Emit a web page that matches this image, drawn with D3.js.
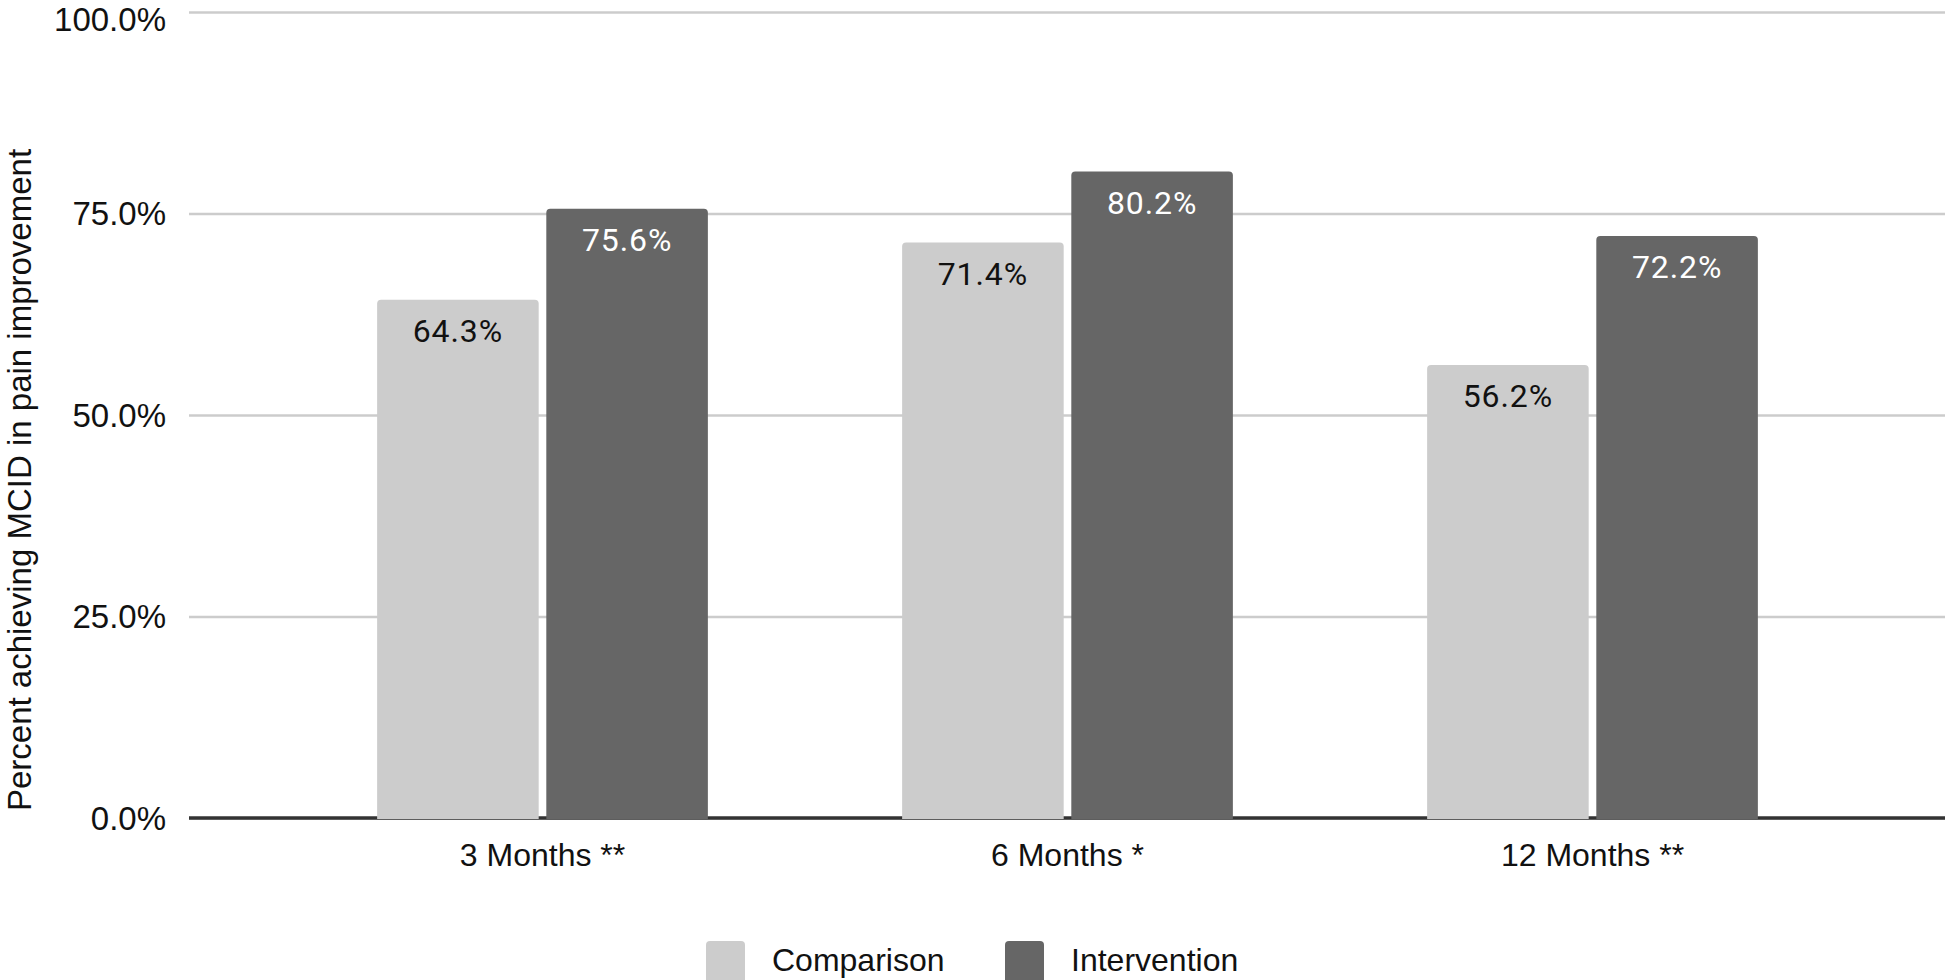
<!DOCTYPE html>
<html>
<head>
<meta charset="utf-8">
<script src="https://cdn.jsdelivr.net/npm/d3@7"></script>
<style>
  body { margin: 0; background: #fff; }
  svg { display: block; }
</style>
</head>
<body>
<script>
//=== Data ===
const periods = ["3 Months **", "6 Months *", "12 Months **"]
const seriesNames = ["Comparison", "Intervention"]
const comparison = [0.643, 0.714, 0.562]
const intervention = [0.756, 0.802, 0.722]
const yTicks = [0, 0.25, 0.5, 0.75, 1]

const colors = { Comparison: "#cccccc", Intervention: "#666666" }
const labelColors = { Comparison: "#111111", Intervention: "#ffffff" }

const W = 1952, H = 980
const plotLeft = 189, plotRight = 1945

const data = periods.map((p, i) => ({
    period: p,
    values: [
        { key: "Comparison", value: comparison[i] },
        { key: "Intervention", value: intervention[i] }
    ]
}))

const svg = d3.select("body").append("svg")
    .attr("width", W)
    .attr("height", H)

const y = d3.scaleLinear()
    .domain([0, 1])
    .range([818, 12])

const x = d3.scaleBand()
    .domain(periods)
    .range([280, 1855])
    .paddingInner(0.37)
    .paddingOuter(0.185)

const xSub = d3.scaleBand()
    .domain(seriesNames)
    .range([0, x.bandwidth()])
    .paddingInner(0.045)

// gridlines + y labels
const yAxis = svg.append("g")
    .attr("transform", "translate(" + plotLeft + ",0)")
    .call(d3.axisLeft(y)
        .tickValues(yTicks)
        .tickFormat(d3.format(".1%"))
        .tickSize(-(plotRight - plotLeft))
        .tickPadding(23))
yAxis.select(".domain").remove()
yAxis.selectAll(".tick line")
    .attr("stroke", "#cccccc")
    .attr("stroke-width", 2.5)
yAxis.selectAll(".tick text")
    .attr("font-family", "Liberation Sans, Arial, sans-serif")
    .attr("font-size", 33)
    .attr("fill", "#111")
    // top label pushed down a bit so it stays inside the page
    .attr("dy", d => d === 1 ? "0.55em" : "0.34em")

// baseline
svg.append("line")
    .attr("x1", plotLeft)
    .attr("x2", plotRight)
    .attr("y1", y(0))
    .attr("y2", y(0))
    .attr("stroke", "#333333")
    .attr("stroke-width", 3.5)

// x axis labels
const xAxis = svg.append("g")
    .attr("transform", "translate(0," + y(0) + ")")
    .call(d3.axisBottom(x).tickSize(0).tickPadding(25))
xAxis.select(".domain").remove()
xAxis.selectAll(".tick text")
    .attr("font-family", "Liberation Sans, Arial, sans-serif")
    .attr("font-size", 32)
    .attr("fill", "#111")

// bar with rounded top corners
function topRounded(x0, y0, w, h, r) {
    return "M" + x0 + "," + (y0 + h) +
        "V" + (y0 + r) +
        "Q" + x0 + "," + y0 + " " + (x0 + r) + "," + y0 +
        "H" + (x0 + w - r) +
        "Q" + (x0 + w) + "," + y0 + " " + (x0 + w) + "," + (y0 + r) +
        "V" + (y0 + h) + "Z"
}

const groups = svg.append("g")
    .selectAll("g")
    .data(data)
    .join("g")
    .attr("transform", d => "translate(" + x(d.period) + ",0)")

groups.selectAll("path")
    .data(d => d.values)
    .join("path")
    .attr("d", d => topRounded(xSub(d.key), y(d.value), xSub.bandwidth(), y(0) - y(d.value) + 1, 4))
    .attr("fill", d => colors[d.key])

groups.selectAll("text")
    .data(d => d.values)
    .join("text")
    .attr("x", d => xSub(d.key) + xSub.bandwidth() / 2)
    .attr("y", d => y(d.value) + 42)
    .attr("text-anchor", "middle")
    .attr("font-family", "Roboto, sans-serif")
    .attr("font-size", 32)
    .attr("letter-spacing", 0.9)
    .attr("fill", d => labelColors[d.key])
    .text(d => d3.format(".1%")(d.value))

// y title
svg.append("text")
    .attr("transform", "translate(31,480) rotate(-90)")
    .attr("text-anchor", "middle")
    .attr("font-family", "Liberation Sans, Arial, sans-serif")
    .attr("font-size", 33)
    .attr("fill", "#111")
    .text("Percent achieving MCID in pain improvement")

// legend
const legendX = [706, 1005]
const legend = svg.append("g")
    .selectAll("g")
    .data(seriesNames)
    .join("g")
    .attr("transform", (d, i) => "translate(" + legendX[i] + ",941)")

legend.append("rect")
    .attr("width", 39)
    .attr("height", 42)
    .attr("rx", 4)
    .attr("fill", d => colors[d])

legend.append("text")
    .attr("x", 66)
    .attr("y", 19)
    .attr("dy", "0.35em")
    .attr("font-family", "Liberation Sans, Arial, sans-serif")
    .attr("font-size", 32)
    .attr("fill", "#111")
    .text(d => d)
</script>
</body>
</html>
